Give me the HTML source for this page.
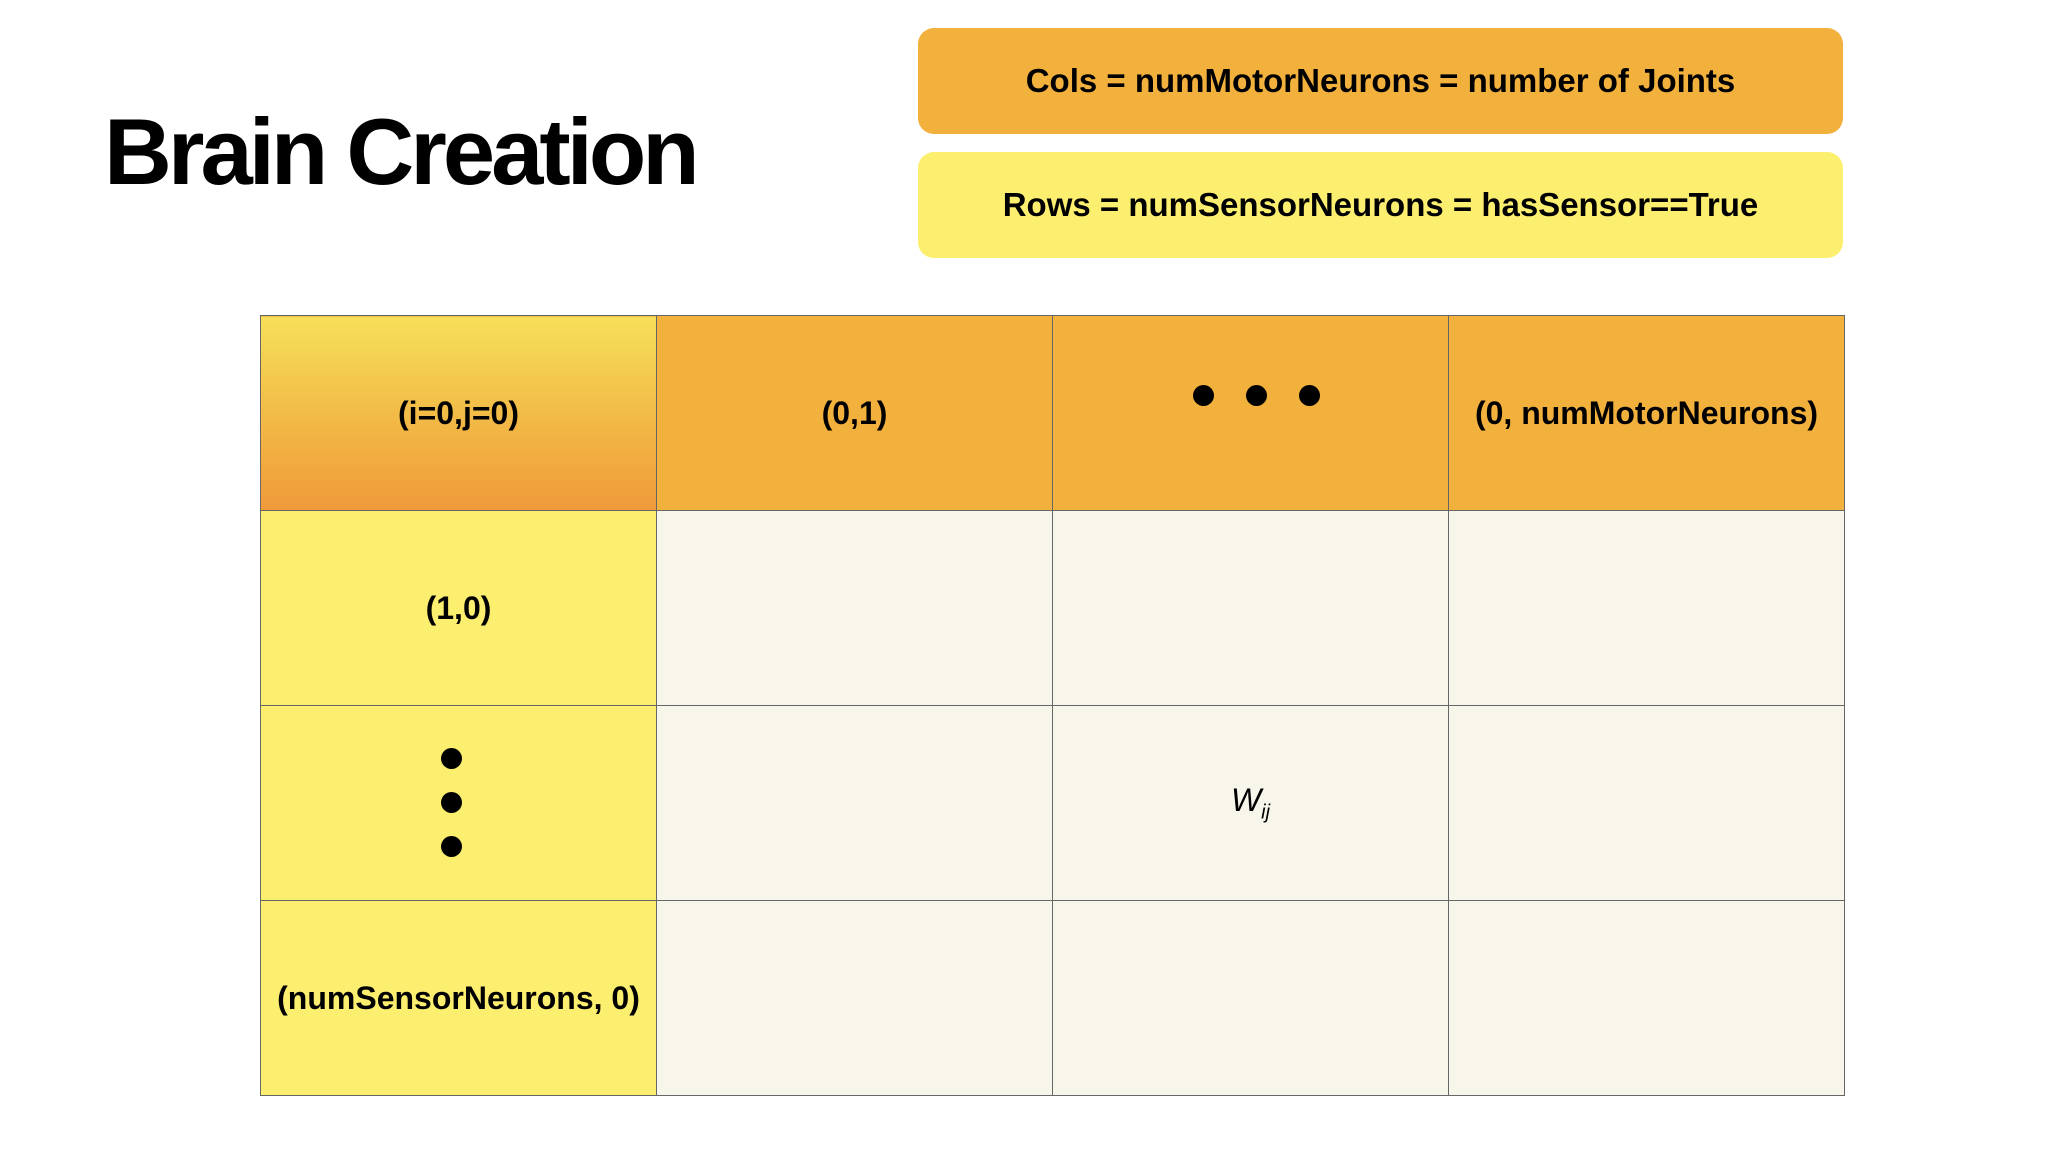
<!DOCTYPE html>
<html><head><style>
body{margin:0;width:2056px;height:1156px;background:#fff;position:relative;overflow:hidden;font-family:"Liberation Sans",sans-serif;}
.t{position:absolute;left:104px;top:98px;font-size:94px;font-weight:bold;letter-spacing:-4px;color:#000;}
.box{position:absolute;left:918px;width:925px;height:106px;border-radius:16px;display:flex;align-items:center;justify-content:center;font-size:33px;font-weight:bold;}
table{position:absolute;left:260px;top:315px;border-collapse:collapse;}
td{width:395px;height:194px;border:1.5px solid #666;padding:0;text-align:center;font-size:32px;font-weight:bold;background:#f8f6ea;position:relative;}
.o{background:#f2b03d}.y{background:#fcee6f}
.g{background:linear-gradient(#f6e05a,#f2b845 55%,#f09a3a);}
.d{position:absolute;width:21px;height:21px;border-radius:50%;background:#000;}
</style></head><body>
<div class="t">Brain Creation</div>
<div class="box" style="top:28px;background:#f2b03d">Cols = numMotorNeurons = number of Joints</div>
<div class="box" style="top:152px;background:#fcee6f">Rows = numSensorNeurons = hasSensor==True</div>
<table>
<tr><td class="g">(i=0,j=0)</td><td class="o">(0,1)</td><td class="o"></td><td class="o">(0, numMotorNeurons)</td></tr>
<tr><td class="y">(1,0)</td><td></td><td></td><td></td></tr>
<tr><td class="y"></td><td></td><td style="font-weight:normal;font-style:italic">W<sub style="font-size:20px">ij</sub></td><td></td></tr>
<tr><td class="y">(numSensorNeurons, 0)</td><td></td><td></td><td></td></tr>
</table>
<div class="d" style="left:1193px;top:385px"></div>
<div class="d" style="left:1246px;top:385px"></div>
<div class="d" style="left:1299px;top:385px"></div>
<div class="d" style="left:441px;top:748px"></div>
<div class="d" style="left:441px;top:792px"></div>
<div class="d" style="left:441px;top:836px"></div>
</body></html>
